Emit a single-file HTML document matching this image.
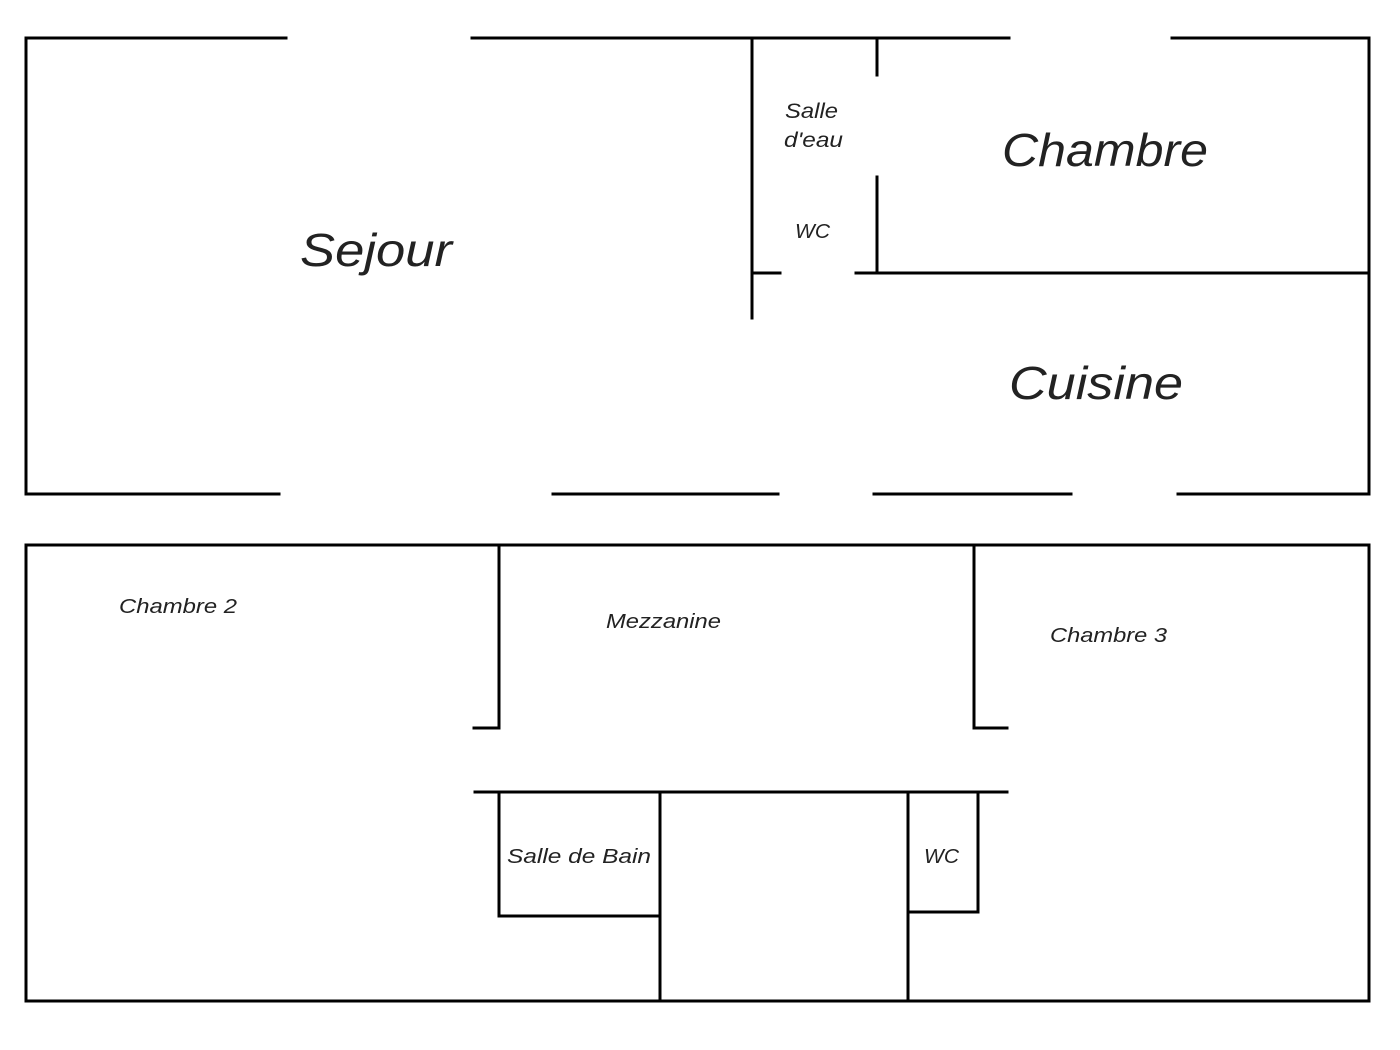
<!DOCTYPE html>
<html><head><meta charset="utf-8"><style>
html,body{margin:0;padding:0;background:#fff;}
svg{display:block}
text{font-family:"Liberation Sans",sans-serif;font-style:italic;fill:#222;}
</style></head><body>
<svg width="1400" height="1050" viewBox="0 0 1400 1050" xmlns="http://www.w3.org/2000/svg">
<g stroke="#000" stroke-width="3" fill="none" stroke-linecap="square">
<line x1="26" y1="38" x2="286" y2="38"/>
<line x1="472" y1="38" x2="1009" y2="38"/>
<line x1="1172" y1="38" x2="1369" y2="38"/>
<line x1="26" y1="494" x2="279" y2="494"/>
<line x1="553" y1="494" x2="778" y2="494"/>
<line x1="874" y1="494" x2="1071" y2="494"/>
<line x1="1178" y1="494" x2="1369" y2="494"/>
<line x1="26" y1="38" x2="26" y2="494"/>
<line x1="1369" y1="38" x2="1369" y2="494"/>
<line x1="752" y1="38" x2="752" y2="318"/>
<line x1="752" y1="273" x2="780" y2="273"/>
<line x1="877" y1="38" x2="877" y2="75"/>
<line x1="877" y1="177" x2="877" y2="273"/>
<line x1="856" y1="273" x2="1369" y2="273"/>

<rect x="26" y="545" width="1343" height="456"/>
<line x1="499" y1="545" x2="499" y2="728"/>
<line x1="474" y1="728" x2="499" y2="728"/>
<line x1="974" y1="545" x2="974" y2="728"/>
<line x1="974" y1="728" x2="1007" y2="728"/>
<line x1="475" y1="792" x2="1007" y2="792"/>
<line x1="499" y1="792" x2="499" y2="916"/>
<line x1="499" y1="916" x2="660" y2="916"/>
<line x1="660" y1="792" x2="660" y2="1001"/>
<line x1="908" y1="792" x2="908" y2="1001"/>
<line x1="978" y1="792" x2="978" y2="912"/>
<line x1="908" y1="912" x2="978" y2="912"/>
</g>
<text x="300" y="266" font-size="46" textLength="152" lengthAdjust="spacingAndGlyphs">Sejour</text>
<text x="1002" y="166" font-size="46" textLength="206" lengthAdjust="spacingAndGlyphs">Chambre</text>
<text x="1009" y="399" font-size="46" textLength="174" lengthAdjust="spacingAndGlyphs">Cuisine</text>
<text x="785" y="118" font-size="21" textLength="53" lengthAdjust="spacingAndGlyphs">Salle</text>
<text x="784" y="147" font-size="21" textLength="59" lengthAdjust="spacingAndGlyphs">d'eau</text>
<text x="795" y="238" font-size="20" textLength="35" lengthAdjust="spacingAndGlyphs">WC</text>
<text x="119" y="613" font-size="20" textLength="118" lengthAdjust="spacingAndGlyphs">Chambre 2</text>
<text x="606" y="628" font-size="20" textLength="115" lengthAdjust="spacingAndGlyphs">Mezzanine</text>
<text x="1050" y="642" font-size="20" textLength="117" lengthAdjust="spacingAndGlyphs">Chambre 3</text>
<text x="507" y="863" font-size="20" textLength="144" lengthAdjust="spacingAndGlyphs">Salle de Bain</text>
<text x="924" y="863" font-size="20" textLength="35" lengthAdjust="spacingAndGlyphs">WC</text>
</svg>
</body></html>
